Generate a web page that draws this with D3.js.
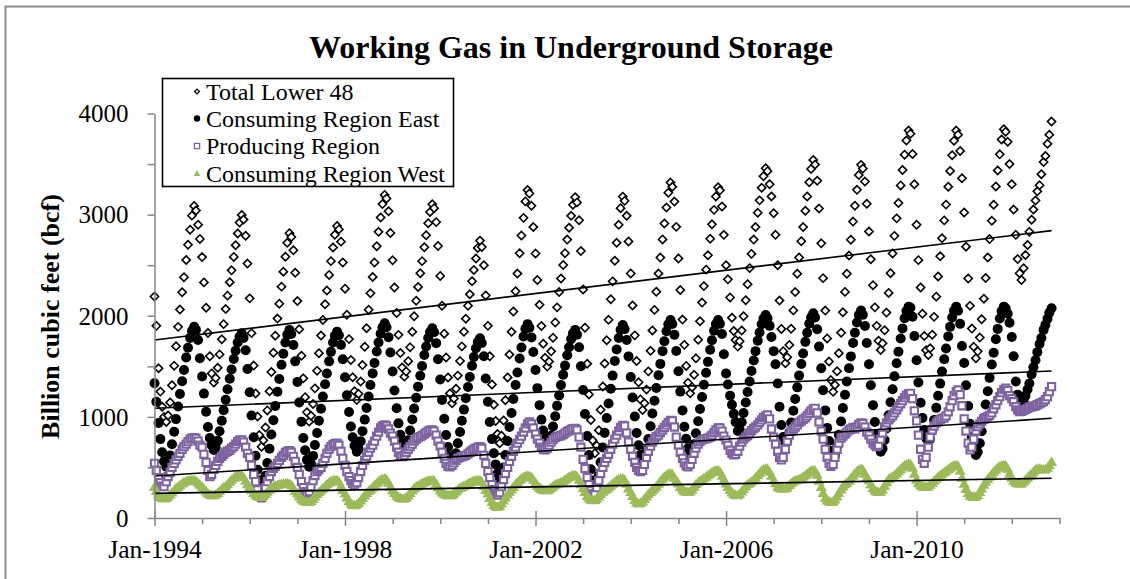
<!DOCTYPE html>
<html>
<head>
<meta charset="utf-8">
<script src="https://cdn.jsdelivr.net/npm/d3@7"></script>
<style>
  body { margin: 0; background: #fff; }
  svg { display: block; font-family: 'Times New Roman', 'Liberation Serif', serif; }
</style>
</head>
<body>
<svg id="chart"></svg>
<script>
// readings taken twice a month (1st and 15th), Jan 1994 to Nov 2012, in bcf
let startYear = 1994

let total = [
  2190,1900,1480,1250,1100,1000,950,1014,1142,1313,1505,1698,1890,2061,2232,2381,2552,2702,2851,2990,3086,3040,2900,2760,
  2580,2330,2080,1830,1600,1430,1340,1385,1485,1618,1767,1917,2066,2199,2332,2449,2582,2698,2814,2922,2997,2951,2791,2516,
  2172,1828,1507,1232,1003,820,705,768,895,1064,1254,1444,1634,1803,1972,2119,2288,2436,2584,2721,2816,2779,2648,2425,
  2145,1866,1605,1381,1195,1046,953,1011,1127,1282,1456,1630,1804,1959,2114,2249,2404,2540,2675,2801,2888,2854,2733,2527,
  2268,2010,1769,1563,1391,1253,1167,1228,1350,1512,1694,1877,2059,2222,2384,2526,2688,2830,2972,3104,3195,3159,3033,2818,
  2548,2279,2027,1811,1632,1488,1398,1449,1551,1688,1841,1995,2148,2285,2421,2540,2677,2796,2915,3026,3103,3064,2926,2690,
  2394,2099,1823,1587,1390,1232,1134,1182,1279,1408,1552,1697,1842,1971,2099,2212,2341,2453,2566,2671,2743,2680,2500,2200,
  1900,1600,1320,1120,960,830,739,814,964,1165,1390,1616,1841,2042,2242,2417,2618,2793,2968,3131,3244,3209,3087,2877,
  2615,2353,2108,1899,1724,1584,1497,1547,1648,1782,1933,2083,2234,2368,2502,2619,2753,2871,2988,3097,3172,3121,2944,2640,
  2260,1881,1526,1222,969,767,640,716,868,1071,1300,1528,1757,1960,2163,2340,2544,2721,2899,3064,3178,3136,2988,2735,
  2418,2102,1806,1553,1342,1173,1068,1135,1270,1450,1653,1855,2058,2237,2417,2575,2755,2912,3070,3216,3317,3275,3129,2879,
  2567,2254,1962,1712,1504,1337,1233,1294,1416,1579,1763,1946,2130,2293,2456,2598,2762,2904,3047,3180,3271,3240,3080,2800,
  2500,2360,2180,1980,1850,1760,1695,1748,1854,1995,2154,2312,2471,2612,2753,2877,3018,3141,3265,3380,3459,3430,3300,3180,
  3014,2800,2500,2150,1870,1650,1530,1590,1711,1872,2053,2234,2415,2576,2737,2877,3038,3179,3320,3451,3541,3495,3335,3060,
  2716,2372,2051,1776,1547,1364,1249,1316,1451,1630,1832,2034,2236,2415,2595,2752,2931,3088,3245,3391,3492,3455,3327,3108,
  2833,2559,2302,2083,1900,1753,1662,1727,1857,2031,2226,2421,2616,2790,2963,3115,3289,3441,3593,3733,3831,3800,3600,3300,
  2900,2550,2280,2020,1800,1660,1612,1679,1812,1989,2189,2389,2588,2766,2943,3099,3276,3432,3587,3731,3831,3790,3630,3360,
  3021,2683,2368,2098,1873,1693,1580,1648,1784,1965,2169,2373,2577,2758,2939,3098,3279,3437,3596,3743,3845,3820,3720,3500,
  3300,3050,2800,2560,2420,2354,2470,2600,2700,2830,2950,3050,3140,3230,3290,3400,3520,3580,3700,3790,3920
]

let east = [
  1332,1150,940,780,650,560,507,535,618,729,853,978,1103,1227,1352,1463,1588,1684,1781,1850,1892,1860,1760,1580,
  1400,1230,1050,900,790,720,673,696,765,858,962,1065,1169,1273,1377,1469,1573,1654,1735,1792,1827,1781,1658,1474,
  1244,1014,799,615,477,370,293,324,418,544,685,826,967,1108,1249,1374,1515,1625,1735,1813,1860,1819,1711,1549,
  1346,1143,953,791,669,575,507,534,614,721,841,961,1081,1202,1322,1429,1549,1643,1736,1803,1843,1807,1712,1570,
  1392,1214,1048,905,798,715,656,681,758,859,973,1087,1202,1316,1430,1532,1646,1735,1823,1887,1925,1887,1787,1637,
  1449,1261,1086,936,823,736,673,697,769,865,974,1082,1190,1299,1407,1503,1611,1696,1780,1840,1876,1836,1729,1569,
  1369,1168,982,821,701,608,541,566,640,739,850,961,1072,1184,1295,1394,1505,1592,1678,1740,1777,1730,1600,1380,
  1150,950,780,640,530,440,376,407,499,623,761,900,1039,1177,1316,1439,1578,1686,1794,1871,1917,1881,1786,1642,
  1463,1284,1116,973,865,782,722,745,813,904,1007,1109,1211,1314,1416,1507,1610,1689,1769,1826,1860,1813,1688,1500,
  1265,1029,810,622,481,371,293,325,422,552,697,842,988,1133,1279,1408,1553,1667,1780,1861,1909,1868,1760,1598,
  1395,1192,1003,841,719,625,557,585,669,781,907,1033,1159,1286,1412,1524,1650,1748,1846,1916,1958,1918,1811,1651,
  1451,1250,1064,903,783,690,623,650,730,837,957,1077,1197,1317,1437,1544,1664,1758,1851,1918,1958,1920,1820,1620,
  1430,1320,1210,1120,1030,950,860,877,946,1039,1143,1246,1350,1454,1558,1650,1754,1835,1916,1973,2008,1975,1900,1790,
  1650,1520,1330,1100,920,800,739,765,842,945,1061,1176,1292,1408,1523,1626,1742,1832,1922,1986,2025,1982,1867,1695,
  1480,1264,1064,891,762,662,590,619,707,824,955,1087,1218,1350,1481,1598,1730,1832,1934,2007,2051,2009,1898,1730,
  1521,1312,1116,949,823,726,656,685,771,885,1015,1144,1273,1402,1531,1645,1775,1875,1975,2047,2090,2080,1990,1800,
  1560,1340,1140,990,870,790,755,782,862,969,1089,1209,1329,1449,1569,1676,1796,1890,1983,2050,2090,2050,1920,1700,
  1533,1312,1107,931,799,696,623,652,740,858,990,1122,1254,1386,1518,1635,1767,1870,1973,2046,2090,2075,2020,1930,
  1790,1600,1350,1220,1130,1101,1150,1210,1270,1330,1420,1490,1560,1640,1720,1780,1860,1910,1970,2030,2074
]

let producing = [
  541,470,400,350,315,310,360,410,450,500,540,574,610,640,680,705,730,755,780,790,795,788,760,720,
  700,630,550,470,409,430,480,520,560,590,610,630,650,660,670,690,705,730,755,770,772,750,700,640,
  600,520,430,360,280,220,200,230,300,360,410,460,490,510,540,570,600,620,645,660,665,650,610,560,
  500,430,360,300,260,244,260,310,370,420,460,480,500,540,590,640,680,705,725,735,739,720,660,590,
  520,460,410,370,340,330,350,400,460,520,570,610,650,690,720,760,810,850,890,910,920,910,880,840,
  810,760,700,650,615,607,620,650,680,705,730,760,780,795,805,815,830,845,860,868,870,860,820,760,
  710,650,590,540,510,507,520,545,570,590,600,607,612,620,635,650,665,680,690,700,705,690,620,540,
  460,400,330,280,240,227,250,310,380,440,500,560,610,660,700,740,775,810,850,890,930,950,930,890,
  830,780,740,700,680,673,690,720,750,775,795,805,810,815,825,840,855,865,875,884,887,870,800,700,
  580,490,400,330,270,235,240,300,370,440,500,550,590,630,680,730,780,820,860,895,915,910,840,750,
  680,610,550,500,470,460,470,530,600,660,710,750,785,805,820,845,870,895,920,945,965,960,900,800,
  720,650,590,545,515,507,530,580,640,690,730,755,772,780,785,790,800,820,845,870,890,890,860,810,
  770,720,670,640,625,630,660,710,750,780,800,815,840,865,885,900,920,945,970,995,1010,1019,980,880,
  800,730,660,600,575,600,680,760,820,860,880,900,920,945,960,975,990,1010,1035,1060,1080,1085,1040,950,
  860,780,680,600,540,510,530,600,680,740,790,810,830,850,870,880,895,880,900,925,940,935,900,850,
  820,780,740,720,705,720,780,840,900,940,970,990,1010,1040,1070,1100,1130,1160,1190,1215,1230,1233,1180,1060,
  960,820,680,580,541,600,700,800,870,910,940,960,975,985,990,1010,1050,1100,1160,1210,1250,1266,1220,1110,
  980,860,740,673,700,780,860,903,930,955,975,990,1002,1015,1040,1080,1120,1160,1200,1240,1270,1283,1260,1210,
  1180,1150,1100,1070,1052,1055,1065,1075,1085,1095,1100,1105,1110,1120,1130,1140,1150,1170,1200,1250,1299
]

let west = [
  310,270,235,210,200,195,200,215,235,255,277,295,310,325,343,355,365,370,374,376,376,368,350,330,
  310,290,265,245,235,228,227,235,250,270,290,305,315,335,360,380,400,415,422,425,420,405,370,335,
  310,280,250,230,218,212,211,220,240,262,285,300,312,320,328,334,338,341,343,343,340,325,300,270,
  244,215,190,175,166,162,161,170,190,215,240,260,277,295,315,335,352,365,372,376,376,360,320,280,
  244,205,170,145,132,129,135,150,175,200,225,250,270,285,305,325,345,362,378,388,392,385,350,310,
  277,250,225,210,200,196,195,205,225,250,275,295,310,322,335,345,355,363,370,374,376,372,340,305,
  277,255,240,232,228,227,230,245,265,285,300,310,318,328,340,350,360,368,374,376,376,360,320,280,
  244,200,160,130,115,112,120,145,175,205,235,262,285,310,335,355,375,392,405,415,420,418,405,380,
  350,320,300,288,280,277,278,285,300,315,330,340,345,355,365,380,395,408,418,424,425,415,380,335,
  300,260,220,195,182,178,180,195,215,240,262,277,290,305,322,340,358,372,385,390,392,380,340,295,
  260,220,180,155,146,150,165,190,215,240,260,277,295,315,340,365,390,410,425,437,442,435,400,370,
  343,310,285,270,262,260,265,285,310,335,355,370,380,395,410,425,440,455,465,472,475,460,420,380,
  343,310,280,255,238,230,227,240,265,290,315,335,345,360,380,400,425,448,470,485,492,488,460,420,
  376,345,315,300,295,293,293,305,325,345,362,372,378,385,395,410,425,440,455,468,475,470,430,370,
  310,250,200,175,165,161,165,185,215,250,285,315,335,350,370,395,420,445,465,480,488,480,440,400,
  376,335,300,275,265,260,262,285,320,355,385,400,410,425,445,465,485,505,520,532,538,535,500,440,
  380,345,325,315,311,310,315,330,350,370,390,410,425,440,455,470,485,500,512,520,524,515,470,400,
  340,290,250,225,215,211,213,230,260,295,330,360,385,410,435,460,480,500,512,520,524,520,490,440,
  400,370,352,345,343,343,360,380,400,420,440,460,480,490,488,485,482,485,500,525,557
]

// linear trend lines, value at first and at last reading
let trendTotal = [1760, 2842]
let trendEast = [1085, 1454]
let trendProducing = [415, 986]
let trendWest = [244, 393]

let seriesNames = ['Total Lower 48', 'Consuming Region East', 'Producing Region', 'Consuming Region West']
let yTickValues = [0, 500, 1000, 1500, 2000, 2500, 3000, 3500, 4000]
let xStart = new Date(1994, 0, 1)
let xEnd = new Date(2013, 0, 1)

let width = 1130
let height = 579

let purple = '#7f63a1'
let green = '#9bbb59'
let axisGray = '#868686'

let dates = total.map((d, i) => new Date(startYear + Math.floor(i / 24), Math.floor((i % 24) / 2), i % 2 ? 15 : 1))

let svg = d3.select('#chart').attr('width', width).attr('height', height)

svg.append('rect').attr('width', width).attr('height', height).attr('fill', '#fff')
// outer frame
svg.append('rect')
  .attr('x', 5.5).attr('y', 6.5).attr('width', width + 10).attr('height', height + 10)
  .attr('fill', 'none').attr('stroke', '#8b8b8b').attr('stroke-width', 2)

let xScale = d3.scaleTime().domain([xStart, xEnd]).range([154.5, 1059.5])
let yScale = d3.scaleLinear().domain([0, 4000]).range([518, 113.5])

// marker shapes
let diamond = (r) => `M0,${-r}L${r},0L0,${r}L${-r},0Z`
let square = (r) => `M${-r},${-r}H${r}V${r}H${-r}Z`
let triangle = (r) => `M0,${-r}L${r * 1.05},${r * 0.8}L${-r * 1.05},${r * 0.8}Z`

let series = [
  { values: total, d: diamond(4.1), fill: '#fff', stroke: '#000', sw: 1.6, legend: diamond(2.4) },
  { values: east, d: 'circle', r: 5, fill: '#000', stroke: 'none', sw: 0, legendR: 3.2 },
  { values: producing, d: square(3.6), fill: '#fff', stroke: purple, sw: 2.1, legend: square(2.6) },
  { values: west, d: triangle(5.3), fill: green, stroke: 'none', sw: 0, legend: triangle(3.2) }
]

let plot = svg.append('g')
series.forEach((s) => {
  let g = plot.append('g')
  if (s.d === 'circle') {
    g.selectAll('circle')
      .data(s.values)
      .enter()
      .append('circle')
      .attr('cx', (v, i) => xScale(dates[i]))
      .attr('cy', (v) => yScale(v))
      .attr('r', s.r)
      .attr('fill', s.fill)
  } else {
    g.selectAll('path')
      .data(s.values)
      .enter()
      .append('path')
      .attr('transform', (v, i) => 'translate(' + xScale(dates[i]) + ',' + yScale(v) + ')')
      .attr('d', s.d)
      .attr('fill', s.fill)
      .attr('stroke', s.stroke)
      .attr('stroke-width', s.sw)
  }
})

// trend lines
let lastDate = dates[dates.length - 1]
let trendLine = d3.line().x((d) => xScale(d[0])).y((d) => yScale(d[1]))
;[trendTotal, trendEast, trendProducing, trendWest].forEach((t) => {
  svg.append('path')
    .attr('d', trendLine([[dates[0], t[0]], [lastDate, t[1]]]))
    .attr('stroke', '#000')
    .attr('stroke-width', 1.6)
    .attr('fill', 'none')
})

// axes
let yAxis = d3.axisLeft(yScale)
  .tickValues(yTickValues)
  .tickSize(7)
  .tickSizeOuter(0)
  .tickPadding(19)
  .tickFormat((v) => v % 1000 === 0 ? String(v) : '')

let gy = svg.append('g').attr('transform', 'translate(154.5,0)').call(yAxis)
gy.select('.domain').attr('stroke', axisGray).attr('stroke-width', 1.5)
gy.selectAll('.tick line').attr('stroke', axisGray).attr('stroke-width', 1.5)
gy.selectAll('.tick text')
  .attr('font-family', "'Times New Roman', 'Liberation Serif', serif")
  .attr('font-size', 25)
  .attr('fill', '#000')
  .attr('dy', '0.33em')

let xAxis = d3.axisBottom(xScale)
  .ticks(d3.timeYear.every(1))
  .tickSize(6)
  .tickSizeOuter(0)
  .tickFormat((d) => (d.getFullYear() - 1994) % 4 === 0 && d.getFullYear() < 2013 ? 'Jan-' + d.getFullYear() : '')

let gx = svg.append('g').attr('transform', 'translate(0,518)').call(xAxis)
gx.select('.domain').attr('stroke', axisGray).attr('stroke-width', 1.5)
gx.selectAll('.tick line')
  .attr('stroke', axisGray)
  .attr('stroke-width', 1.5)
  .attr('y1', (d) => (d.getFullYear() - 1994) % 4 === 0 ? -7 : 0)
  .attr('y2', (d) => (d.getFullYear() - 1994) % 4 === 0 ? 8 : 6)
gx.selectAll('.tick text')
  .attr('font-family', "'Times New Roman', 'Liberation Serif', serif")
  .attr('font-size', 25.5)
  .attr('fill', '#000')
  .attr('y', 40)
  .attr('dy', 0)

// titles
svg.append('text')
  .attr('x', 571).attr('y', 58)
  .attr('text-anchor', 'middle')
  .attr('font-size', 32)
  .attr('font-weight', 'bold')
  .text('Working Gas in Underground Storage')

svg.append('text')
  .attr('transform', 'translate(59,316.5) rotate(-90)')
  .attr('text-anchor', 'middle')
  .attr('font-size', 26)
  .attr('font-weight', 'bold')
  .text('Billion cubic feet (bcf)')

// legend
let legend = svg.append('g')
legend.append('rect')
  .attr('x', 162.5).attr('y', 78.5).attr('width', 291).attr('height', 108)
  .attr('fill', '#fff').attr('stroke', '#000').attr('stroke-width', 1.6)

let rowY = [91.5, 118.5, 146, 173.5]
series.forEach((s, i) => {
  if (s.d === 'circle') {
    legend.append('circle').attr('cx', 197).attr('cy', rowY[i]).attr('r', s.legendR).attr('fill', '#000')
  } else {
    legend.append('path')
      .attr('transform', 'translate(197,' + rowY[i] + ')')
      .attr('d', s.legend)
      .attr('fill', s.fill)
      .attr('stroke', s.stroke)
      .attr('stroke-width', s.sw ? 1.3 : 0)
  }
  legend.append('text')
    .attr('x', 206)
    .attr('y', rowY[i] + 8)
    .attr('font-size', 24)
    .text(seriesNames[i])
})
</script>
</body>
</html>
